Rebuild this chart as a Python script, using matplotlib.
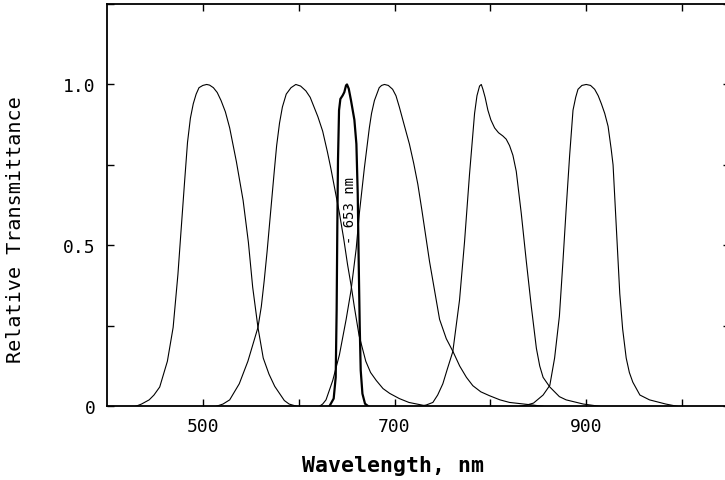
import matplotlib
matplotlib.use('Agg')
import matplotlib.pyplot as plt
from matplotlib.ticker import FixedLocator, FixedFormatter

# filter transmittance curves (wavelength nm, relative T)
f500_wl = [430, 436, 444, 449, 455, 463, 469, 474, 477, 481, 484, 487, 490, 493, 496, 500,
           504, 507, 511, 515, 519, 523.5, 528, 535, 542, 547.5, 552, 557.5, 563, 569,
           575, 580, 585, 590, 598]
f500_t = [0, 0.007, 0.02, 0.035, 0.06, 0.14, 0.245, 0.41, 0.535, 0.70, 0.82, 0.895, 0.94,
          0.97, 0.99, 0.997, 1.0, 0.998, 0.99, 0.975, 0.95, 0.915, 0.865, 0.76, 0.64, 0.51,
          0.37, 0.245, 0.15, 0.10, 0.062, 0.04, 0.018, 0.007, 0]

f600_wl = [514, 521, 528, 538, 547, 557.5, 561, 564, 567, 570, 574.5, 577, 580, 583, 587,
           592, 597, 602, 607.5, 612, 616, 620, 625, 630, 633.5, 638, 642.5, 647, 651, 655,
           658, 663, 670, 675, 681, 688, 695, 705, 715, 735]
f600_t = [0, 0.007, 0.02, 0.07, 0.14, 0.245, 0.31, 0.39, 0.48, 0.58, 0.73, 0.81, 0.88, 0.93,
          0.97, 0.99, 1.0, 0.995, 0.98, 0.96, 0.93, 0.90, 0.855, 0.79, 0.74, 0.67, 0.60,
          0.52, 0.44, 0.37, 0.31, 0.22, 0.14, 0.105, 0.08, 0.055, 0.04, 0.024, 0.012, 0]

f653_wl = [632, 636.5, 638.6, 639.6, 640.3, 641, 642.1, 643.5, 645.9, 647.6, 649.4, 650.4,
           652.2, 654.6, 658.1, 660.2, 661.6, 662.6, 663.7, 664.7, 666.5, 669.2, 672.7]
f653_t = [0, 0.024, 0.09, 0.30, 0.557, 0.764, 0.92, 0.955, 0.966, 0.976, 0.997, 1.0,
          0.987, 0.95, 0.89, 0.815, 0.66, 0.45, 0.246, 0.112, 0.039, 0.008, 0]

f700_wl = [621.5, 625, 628.5, 635.5, 642.5, 649.5, 654.6, 660, 663.3, 668.5, 673.7, 676,
           679, 681.5, 684, 686.5, 689.5, 693.5, 698, 701.5, 705, 710, 715.5, 720, 724.3,
           728.5, 733, 736.5, 740, 743.5, 747, 754, 761, 768, 775, 781.7, 790, 799, 810,
           820, 844, 855]
f700_t = [0, 0.007, 0.02, 0.08, 0.16, 0.27, 0.36, 0.49, 0.60, 0.74, 0.865, 0.91,
          0.95, 0.97, 0.99, 0.997, 1.0, 0.997, 0.985, 0.965, 0.93, 0.875, 0.815, 0.755, 0.69,
          0.61, 0.52, 0.45, 0.39, 0.33, 0.27, 0.21, 0.17, 0.125, 0.09, 0.064, 0.045, 0.033,
          0.02, 0.012, 0.004, 0]

f790_wl = [726, 733, 740, 745, 750.4, 755, 760.8, 767.8, 773, 778.2, 783.5, 786, 788.7,
           790.5, 792.2, 794.5, 797.4, 800.5, 804.4, 808.5, 813, 816.5, 820, 823.5, 827,
           832.2, 837.5, 842.7, 848, 851.5, 855, 862, 872, 879, 897, 914]
f790_t = [0, 0.004, 0.012, 0.035, 0.07, 0.115, 0.17, 0.33, 0.51, 0.72, 0.91, 0.965, 0.995,
          1.0, 0.985, 0.96, 0.92, 0.89, 0.865, 0.85, 0.84, 0.83, 0.81, 0.78, 0.73,
          0.60, 0.45, 0.31, 0.18, 0.125, 0.09, 0.06, 0.03, 0.02, 0.007, 0]

f900_wl = [830, 838, 845, 855, 862, 867, 872, 875.7, 879.2, 882.7, 886.2, 889, 891.4,
           895.5, 900, 904.5, 908.8, 912.5, 915.8, 919.3, 922.8, 926, 928, 931.5, 935, 938,
           941.7, 945, 948.6, 956, 966, 983, 995]
f900_t = [0, 0.004, 0.01, 0.035, 0.065, 0.15, 0.28, 0.45, 0.62, 0.78, 0.92, 0.96, 0.985,
          0.997, 1.0, 0.997, 0.985, 0.965, 0.94, 0.91, 0.87, 0.80, 0.75, 0.55, 0.35, 0.24,
          0.15, 0.105, 0.075, 0.035, 0.02, 0.007, 0]

broad = [(f500_wl, f500_t), (f600_wl, f600_t), (f700_wl, f700_t),
         (f790_wl, f790_t), (f900_wl, f900_t)]

x_ticks = [500, 600, 700, 800, 900, 1000]
x_labels = ['500', '', '700', '', '900', '']
y_ticks = [0, 0.25, 0.5, 0.75, 1.0, 1.25]
y_labels = ['0', '', '0.5', '', '1.0', '']

mono = 'DejaVu Sans Mono'

fig = plt.figure(figsize=(7.25, 4.81), dpi=100)
ax = fig.add_axes([107 / 725, 1 - 407.3 / 481, 623 / 725, 402.3 / 481])

for wl, t in broad:
    ax.plot(wl, t, color='black', linewidth=0.8, solid_joinstyle='round')
ax.plot(f653_wl, f653_t, color='black', linewidth=1.6, solid_joinstyle='round')

ax.text(653.5, 0.61, '- 653 nm', rotation=90, ha='center', va='center',
        fontsize=10, family=mono)

ax.set_xlim(400, 1050)
ax.set_ylim(0, 1.25)

ax.xaxis.set_major_locator(FixedLocator(x_ticks))
ax.xaxis.set_major_formatter(FixedFormatter(x_labels))
ax.yaxis.set_major_locator(FixedLocator(y_ticks))
ax.yaxis.set_major_formatter(FixedFormatter(y_labels))
ax.tick_params(direction='in', length=5, width=1, top=True, right=True,
               labelsize=13, pad=8)
for lab in ax.get_xticklabels() + ax.get_yticklabels():
    lab.set_family(mono)

for sp in ax.spines.values():
    sp.set_linewidth(1.3)

ax.set_xlabel('Wavelength, nm', fontsize=15.5, fontweight='bold', family=mono)
ax.xaxis.set_label_coords((393 - 107) / 623, (407.3 - 456) / 402.3)
ax.set_ylabel('Relative Transmittance', fontsize=14.5, family=mono)
ax.yaxis.set_label_coords((25 - 107) / 623, (407.3 - 230) / 402.3)

fig.savefig('out.png', dpi=100)
